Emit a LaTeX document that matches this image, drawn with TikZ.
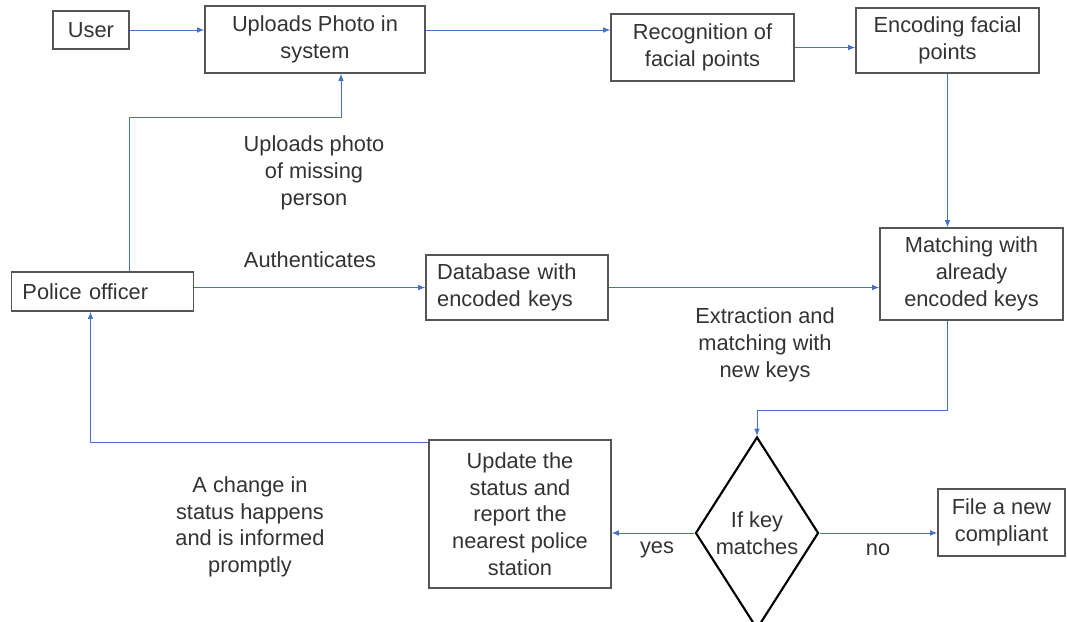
\documentclass[tikz,border=0pt]{standalone}
\usepackage{fontspec}
\setmainfont{Liberation Sans}
\usetikzlibrary{arrows.meta,shapes.geometric}

\definecolor{linkblue}{HTML}{4472C4}
\definecolor{boxgray}{HTML}{555555}
\definecolor{txtgray}{HTML}{333333}

\begin{document}
\begin{tikzpicture}[x=0.025cm, y=-0.025cm,
	every node/.style={font=\fontsize{15.5}{19}\selectfont, text=txtgray},
	>={Latex[length=1.8mm, width=1.4mm]},
	box/.style={draw=boxgray, line width=0.9pt, align=center, inner sep=0pt},
	leftbox/.style={box, align=left, inner xsep=0.28cm},
	flow/.style={->, linkblue, line width=0.7pt},
	lbl/.style={align=center}]
	\useasboundingbox[fill=white] (0,0) rectangle (1067,622);

	% upper row
	\node[box, minimum width=1.9cm, minimum height=0.95cm] (user) at (91,30) {User};
	\node[box, minimum width=5.5cm, minimum height=1.675cm] (upl) at (315,39.5) {Uploads Photo in\\system};
	\node[box, minimum width=4.575cm, minimum height=1.675cm] (rec) at (702.5,47.5) {Recognition of\\facial points};
	\node[box, minimum width=4.575cm, minimum height=1.625cm] (enc) at (947.5,40.5) {Encoding facial\\points};

	% middle row
	\node[leftbox, text width=4.0cm, minimum height=0.975cm] (police) at (102.5,291.5) {Police officer};
	\node[leftbox, text width=3.99cm, minimum height=1.625cm] (db) at (517,287.5) {Database with\\encoded keys};
	\node[box, minimum width=4.575cm, minimum height=2.3cm] (match) at (971.5,274) {Matching with\\already\\encoded keys};

	% lower row
	\node[box, minimum width=4.55cm, minimum height=3.7cm] (upd) at (520,514) {Update the\\status and\\report the\\nearest police\\station};
	\node[diamond, draw=black, line width=1.5pt, shape aspect=0.64, inner sep=0pt, align=center,
		minimum width=3.075cm, minimum height=4.8cm] (dec) at (757,533) {If key\\matches};
	\node[box, minimum width=3.175cm, minimum height=1.675cm] (file) at (1001.5,522.5) {File a new\\compliant};

	% labels
	\node[lbl] (uplbl) at (314,173) {Uploads photo\\of missing\\person};
	\node[lbl] (authlbl) at (310,260) {Authenticates};
	\node[lbl] (extlbl) at (765,345) {Extraction and\\matching with\\new keys};
	\node[lbl] (chglbl) at (250,527) {A change in\\status happens\\and is informed\\promptly};
	\node (yeslbl) at (657,550) {yes};
	\node (nolbl) at (878,550) {no};

	% connectors
	\draw[flow] (user.east) -- (user.east -| upl.west);
	\draw[flow] (upl.east |- user.east) -- (rec.west |- user.east);
	\draw[flow] (rec) -- (rec -| enc.west);
	\draw[flow] (enc.south) -- (enc.south |- match.north);
	\draw[flow] (police.north -| user.east) -- ++(0,-154) -| ([xshift=0.65cm]upl.south);
	\draw[flow] (police.east |- db.west) -- (db.west);
	\draw[flow] (db) -- (db -| match.west);
	\draw[flow] (match.south -| enc.south) -- ++(0,90) -| (dec.north);
	\draw[flow] (dec.west) -- (dec.west -| upd.east);
	\draw[flow] (dec.east) -- (dec.east -| file.west);
	\draw[flow] ([yshift=-0.075cm]upd.north west) -| ([xshift=-0.3cm]police.south);
\end{tikzpicture}
\end{document}
